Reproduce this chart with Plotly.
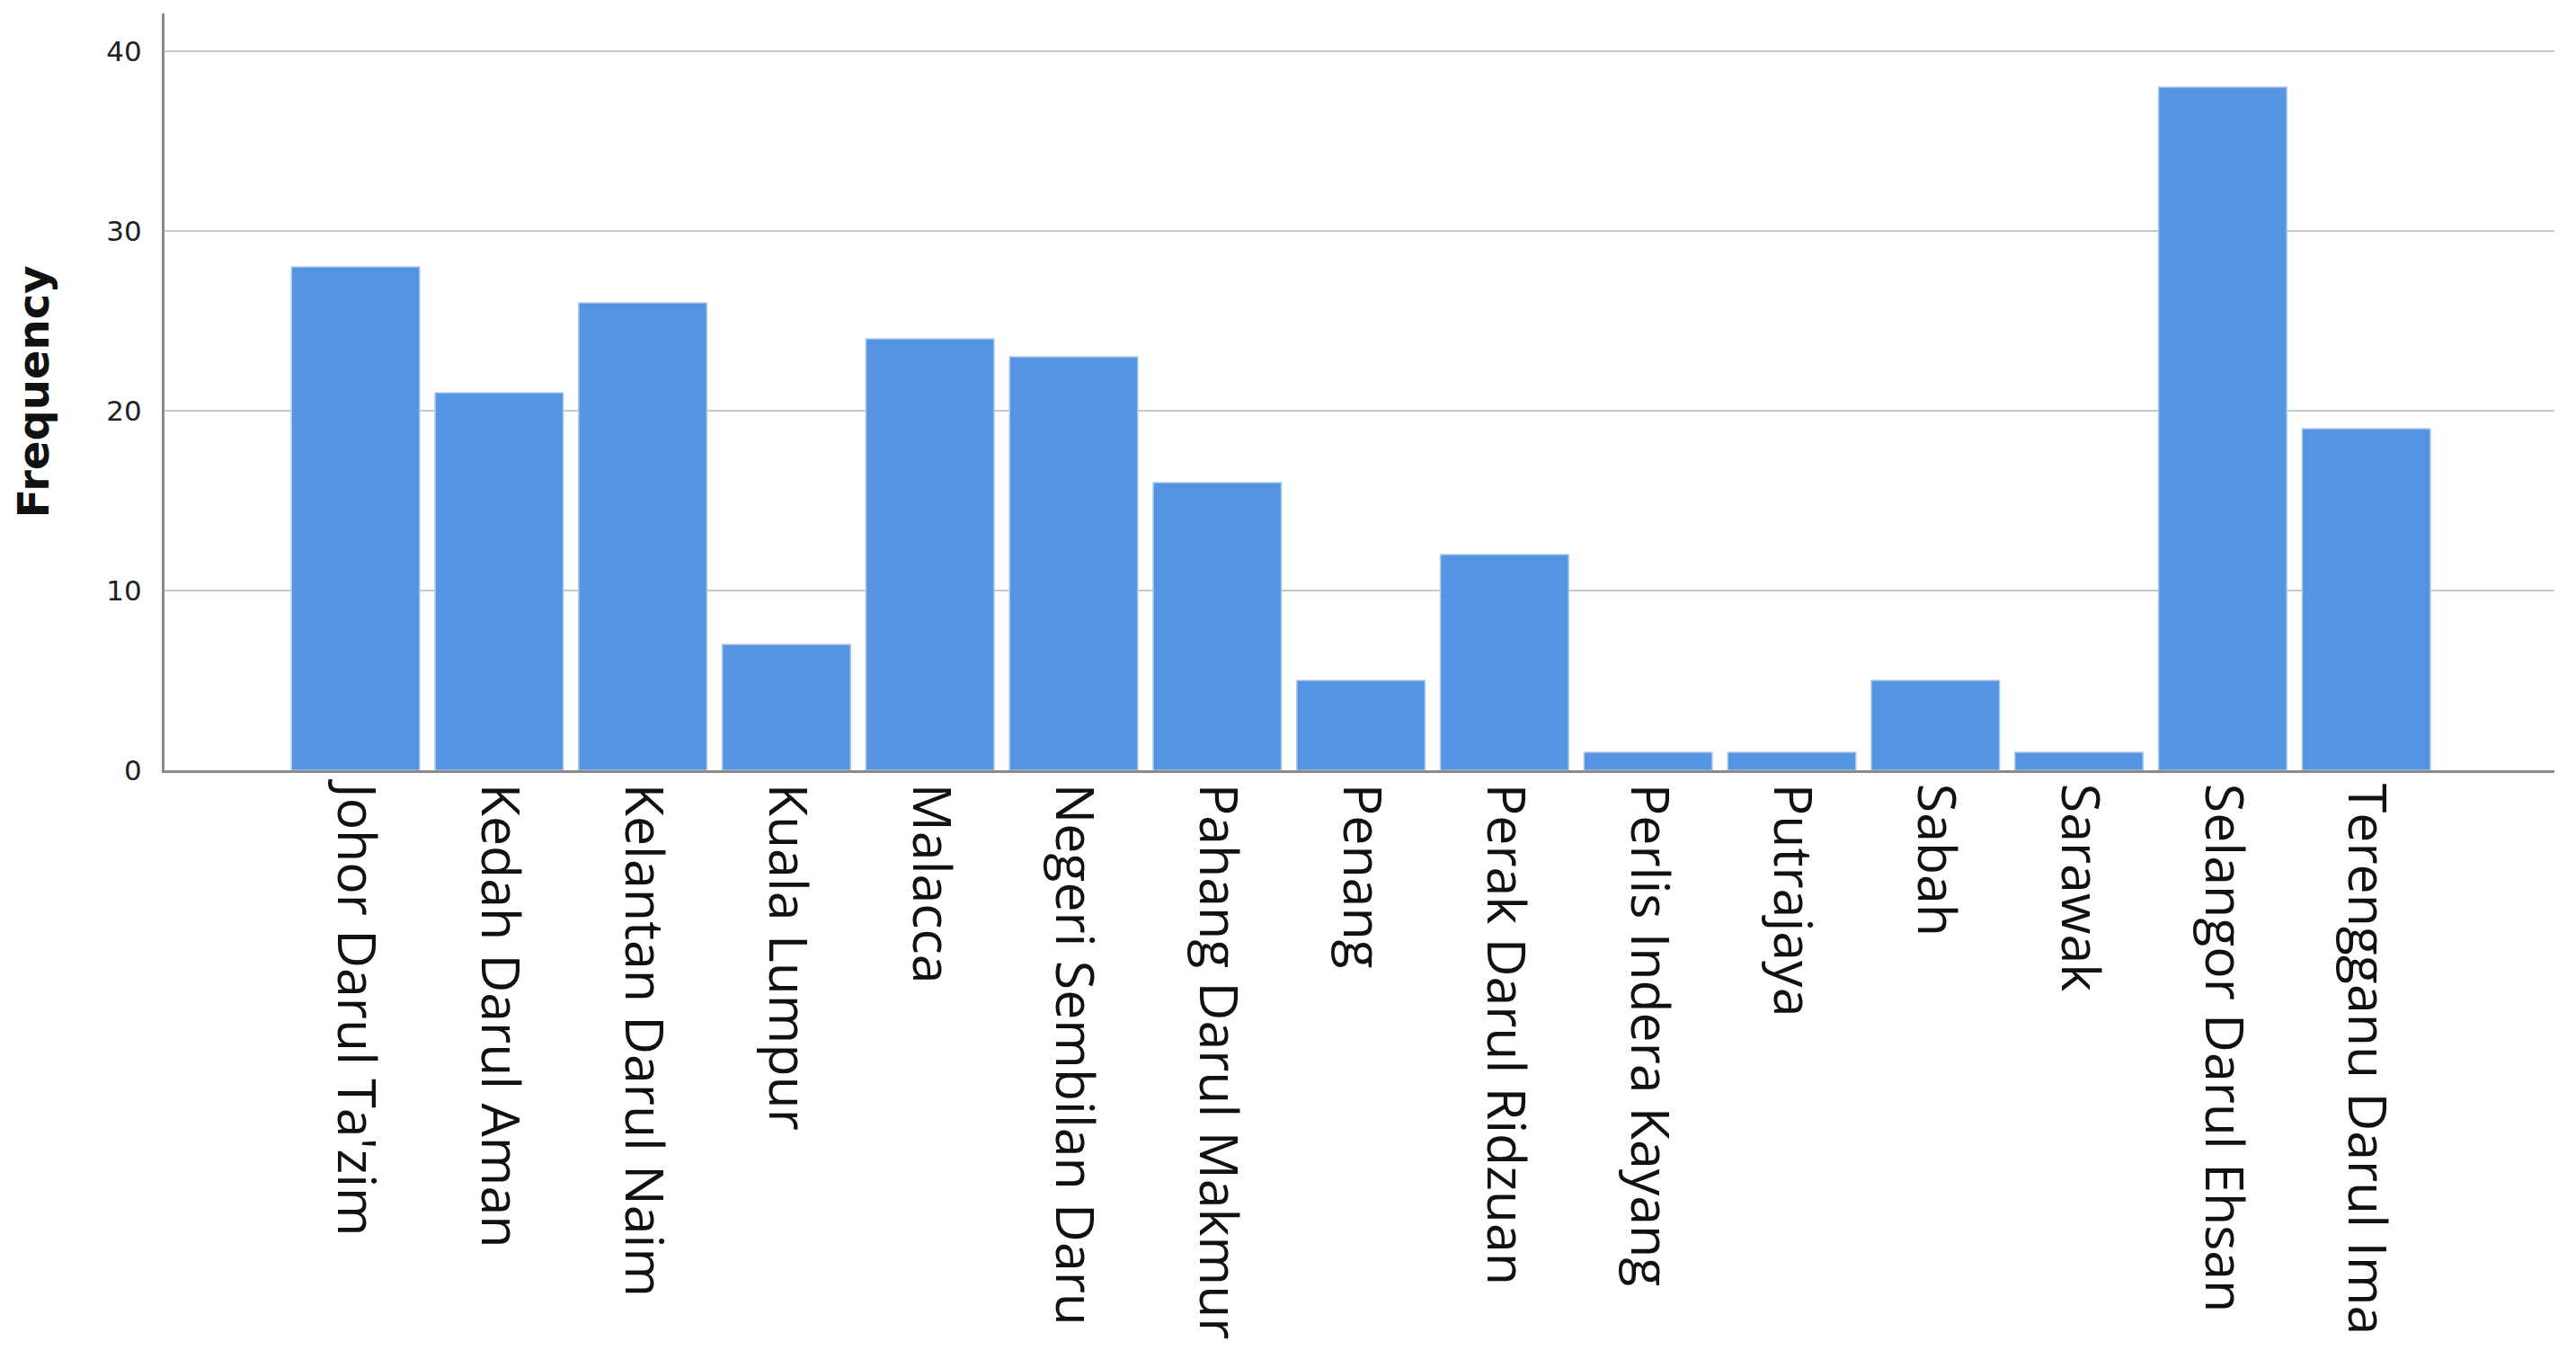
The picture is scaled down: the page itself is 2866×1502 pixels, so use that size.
import plotly.graph_objects as go

# states and their counts
states = ["Johor Darul Ta'zim", "Kedah Darul Aman", "Kelantan Darul Naim",
          "Kuala Lumpur", "Malacca", "Negeri Sembilan Daru", "Pahang Darul Makmur",
          "Penang", "Perak Darul Ridzuan", "Perlis Indera Kayang", "Putrajaya",
          "Sabah", "Sarawak", "Selangor Darul Ehsan", "Terengganu Darul Ima"]
freq = [28, 21, 26, 7, 24, 23, 16, 5, 12, 1, 1, 5, 1, 38, 19]
y_ticks = [0, 10, 20, 30, 40]

fig = go.Figure()
fig.add_trace(go.Bar(x=states, y=freq,
                     marker=dict(color="#5594e3",
                                 line=dict(color="#a9c8f0", width=1.5))))

# page body has an 8px margin, so the figure is a bit smaller than the window
fig.update_layout(
    width=2850, height=1486,
    margin=dict(l=175, r=16, t=7, b=637),
    plot_bgcolor="white", paper_bgcolor="white",
    bargap=0.108, showlegend=False,
)

fig.update_xaxes(range=[-1.33, 15.31], tickangle=90, automargin=False,
                 tickfont=dict(family="Open Sans", size=59, color="#111111"),
                 showline=True, linecolor="#8a8a8a", linewidth=3,
                 ticks="", showgrid=False)
fig.update_yaxes(range=[0, 42.1], tickvals=y_ticks, automargin=False,
                 tickfont=dict(family="DejaVu Sans", size=31, color="#222222"),
                 showline=True, linecolor="#8a8a8a", linewidth=3,
                 gridcolor="#c9c9c9", gridwidth=2, zeroline=False,
                 ticks="outside", ticklen=16, tickcolor="rgba(0,0,0,0)",
                 title=dict(text="<b>Frequency</b>", standoff=49,
                            font=dict(family="DejaVu Sans", size=48, color="#111111")))

fig.write_html("out.html")
